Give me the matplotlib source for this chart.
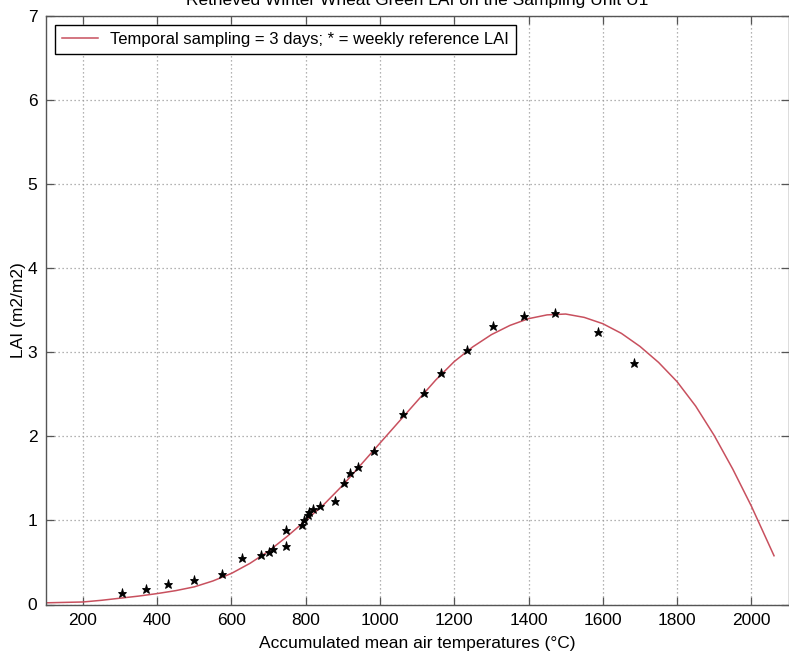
import numpy as np
import matplotlib
matplotlib.use("Agg")
import matplotlib.pyplot as plt

plt.rcParams['font.family'] = ['Liberation Sans', 'DejaVu Sans']

# Retrieved green LAI, 3-day temporal sampling (accumulated °C, LAI)
curve_t = [100, 150, 200, 250, 300, 350, 400, 450, 500, 550, 600, 650, 700,
           750, 800, 850, 900, 950, 1000, 1050, 1100, 1150, 1200, 1250, 1300,
           1350, 1400, 1450, 1500, 1550, 1600, 1650, 1700, 1750, 1800, 1850,
           1900, 1950, 2000, 2030, 2061]
curve_lai = [0.020, 0.025, 0.030, 0.050, 0.075, 0.100, 0.130, 0.165, 0.210,
             0.280, 0.370, 0.490, 0.635, 0.810, 1.000, 1.195, 1.420, 1.670,
             1.920, 2.170, 2.420, 2.670, 2.890, 3.065, 3.210, 3.320, 3.400,
             3.445, 3.455, 3.415, 3.340, 3.225, 3.070, 2.880, 2.650, 2.360,
             2.010, 1.610, 1.170, 0.880, 0.580]

# Weekly reference LAI measurements
ref_t = [304, 369, 429, 500, 574, 629, 679, 701, 711, 747, 746, 789, 794, 807,
         810, 819, 839, 880, 902, 920, 940, 985, 1063, 1118, 1164, 1233, 1304,
         1387, 1471, 1587, 1683]
ref_lai = [0.14, 0.18, 0.24, 0.295, 0.36, 0.555, 0.59, 0.63, 0.655, 0.89, 0.69,
           0.94, 1.00, 1.07, 1.10, 1.14, 1.17, 1.23, 1.45, 1.57, 1.63, 1.82,
           2.26, 2.51, 2.75, 3.03, 3.31, 3.43, 3.47, 3.24, 2.87]

title = "Retrieved Winter Wheat Green LAI on the Sampling Unit U1"
xlabel = "Accumulated mean air temperatures (°C)"
ylabel = "LAI (m2/m2)"
legend_label = "Temporal sampling = 3 days; * = weekly reference LAI"
xticks = [200, 400, 600, 800, 1000, 1200, 1400, 1600, 1800, 2000]
yticks = [0, 1, 2, 3, 4, 5, 6, 7]

W, H = 789, 652
fig = plt.figure(figsize=(W / 100, H / 100), dpi=100)
left, right, top, bottom = 45.8, 788.5, 16, 604.5
ax = fig.add_axes([left / W, (H - bottom) / H, (right - left) / W, (bottom - top) / H])

line, = ax.plot(curve_t, curve_lai, color='#c8505e', lw=1.1, label=legend_label)
ax.plot(ref_t, ref_lai, linestyle='none', marker='*', color='black',
        markersize=6.5, markeredgewidth=0.6)

ax.set_xlim(100, 2100)
ax.set_ylim(0, 7)
ax.set_xticks(xticks)
ax.set_yticks(yticks)
ax.tick_params(direction='in', length=6, width=0.9, color='#555555',
               top=True, right=True, labelsize=12.5, pad=6)
ax.grid(True, color='#9a9a9a', linestyle=(0, (1, 2.2)), linewidth=0.9)
for s in ax.spines.values():
    s.set_color('#555555')
    s.set_linewidth(1.0)

ax.set_xlabel(xlabel, fontsize=12.5, labelpad=6)
ax.set_ylabel(ylabel, fontsize=12.5, labelpad=1)

leg = ax.legend(handles=[line], loc='upper left', fontsize=12,
                bbox_to_anchor=(0.0, 1.0), borderaxespad=0.55,
                fancybox=False, framealpha=1, edgecolor='black',
                handlelength=2.2, borderpad=0.4, handletextpad=0.7)
leg.get_frame().set_linewidth(1.0)

fig.text(417 / W, 1 - 5 / H, title, ha='center', va='baseline', fontsize=12.5)

fig.savefig("out.png", dpi=100)
